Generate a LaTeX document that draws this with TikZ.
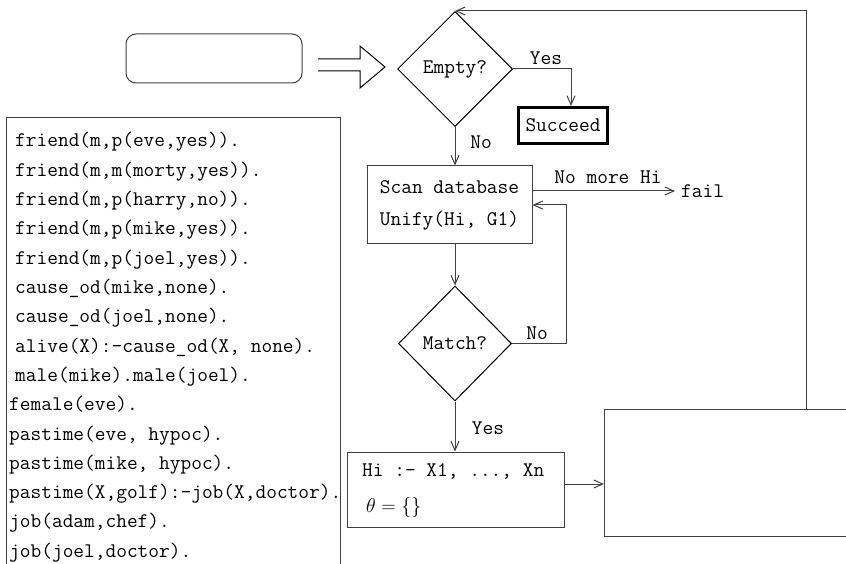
\documentclass[tikz,border=0pt]{standalone}
\usepackage{fix-cm}
\usepackage{fontspec}
\usetikzlibrary{shapes.geometric,arrows.meta}
\begin{document}
\begin{tikzpicture}[x=1pt,y=-1pt,
  every node/.style={font=\ttfamily\fontsize{20.8}{24}\selectfont},
  ln/.style={draw=black!75, line width=1pt},
  arr/.style={ln, -{Straight Barb[length=9pt,width=8pt]}},
  dia/.style={diamond, draw=black, line width=1pt, aspect=1, inner sep=0pt, minimum width=115pt, minimum height=115pt},
  box/.style={rectangle, draw=black!75, line width=1pt, inner sep=0pt},
  lbl/.style={inner sep=0pt},
  db/.style={anchor=base west, inner sep=0pt}]
\useasboundingbox (0,0) rectangle (846,564);
% start box and hollow arrow
\node[box, rounded corners=10pt, minimum width=176pt, minimum height=49pt] (start) at (214,58.5) {};
\draw[draw=black, line width=1pt] (318,59) -- (360,59) -- (360,46) -- (385,67) -- (360,88) -- (360,71) -- (318,71);
% flow nodes
\node[dia] (empty) at (455,69) {Empty?};
\node[box, draw=black, line width=3.2pt, minimum width=89pt, minimum height=36pt] (succ) at (563,125.5) {Succeed};
\node[box, minimum width=165pt, minimum height=78pt, align=center, font=\ttfamily\fontsize{20.8}{32}\selectfont] (scan) at (449.5,205) {Scan database\\Unify(Hi, G1)};
\node[dia, minimum width=113pt, minimum height=115pt] (match) at (455,343.5) {Match?};
\node[box, minimum width=217pt, minimum height=75pt] (hi) at (455.5,489.5) {};
\node[lbl, anchor=west] (hitext) at (362,471) {Hi :- X1, ..., Xn};
\node[lbl, anchor=west, font=\fontsize{20}{24}\selectfont] (theta) at (366,507) {$\theta=\{\}$};
\node[inner sep=0pt, inner xsep=6pt, anchor=west] (fail) at (675,191) {fail};
% right open box
\draw[ln] (846,409) -- (604,409) -- (604,536) -- (846,536);
\coordinate (rb) at (604,484);
\coordinate (rbtop) at (806,409);
% connectors
\draw[arr] (empty.east) -| ([xshift=8pt]succ.north);
\draw[arr] (empty.south) -- (empty.south |- scan.north);
\draw[arr] (scan.east |- fail.west) -- (fail.west);
\draw[arr] (match.north |- scan.south) -- (match.north);
\draw[arr] (match.east) -- (566,343.5) |- (scan.east);
\draw[arr] (match.south) -- (match.south |- hi.north);
\draw[arr] (hi.east |- rb) -- (rb);
\draw[arr] (rbtop) |- (empty.north);
% labels
\node[lbl] (lyes1) at (546,58) {Yes};
\node[lbl] (lno1) at (481,142) {No};
\node[lbl] (lnomore) at (608,177) {No more Hi};
\node[lbl] (lno2) at (537,333) {No};
\node[lbl] (lyes2) at (488,428) {Yes};
% database
\draw[ln] (6,564) -- (6,118) -- (340,118) -- (340,564);
\node[db] (d1) at (15,147) {friend(m,p(eve,yes)).};
\node[db] (d2) at (15,176.3) {friend(m,m(morty,yes)).};
\node[db] (d3) at (15,205.6) {friend(m,p(harry,no)).};
\node[db] (d4) at (15,234.9) {friend(m,p(mike,yes)).};
\node[db] (d5) at (15,264.2) {friend(m,p(joel,yes)).};
\node[db] (d6) at (15,293.5) {cause\_od(mike,none).};
\node[db] (d7) at (15,322.8) {cause\_od(joel,none).};
\node[db] (d8) at (15,352.1) {alive(X):-cause\_od(X, none).};
\node[db] (d9) at (15,381.4) {male(mike).male(joel).};
\node[db] (d10) at (9,410.7) {female(eve).};
\node[db] (d11) at (9,440) {pastime(eve, hypoc).};
\node[db] (d12) at (9,469.3) {pastime(mike, hypoc).};
\node[db] (d13) at (9,498.6) {pastime(X,golf):-job(X,doctor).};
\node[db] (d14) at (9,527.9) {job(adam,chef).};
\node[db] (d15) at (9,557.2) {job(joel,doctor).};
\end{tikzpicture}
\end{document}
